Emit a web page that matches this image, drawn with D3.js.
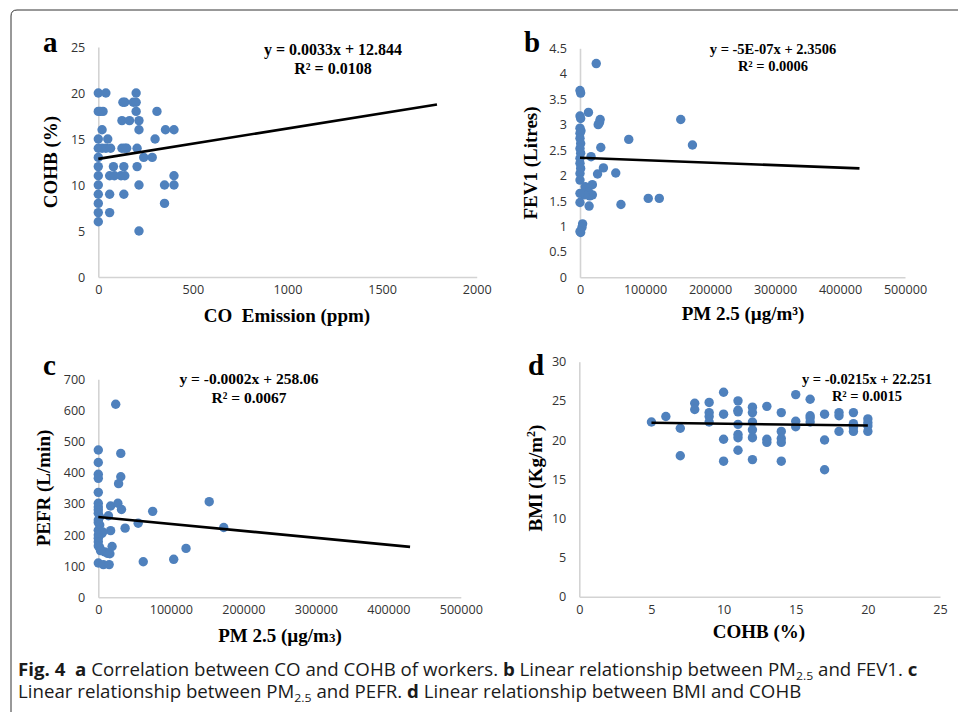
<!DOCTYPE html>
<html>
<head>
<meta charset="utf-8">
<script src="https://cdn.jsdelivr.net/npm/d3@7"></script>
<style>
body { margin: 0; background: #fff; }
</style>
</head>
<body>
<script>
// ---- data ----
// a: CO emission (ppm) vs COHB (%)
var coVsCohb = [
    [0,20],[40,20],[200,20],
    [130,19],[140,19],[185,19],[200,19],
    [0,18],[10,18],[25,18],[200,18],[310,18],
    [125,17],[165,17],[215,17],
    [20,16],[215,16],[355,16],[400,16],
    [0,15],[50,15],[300,15],
    [0,14],[20,14],[40,14],[65,14],[125,14],[140,14],[150,14],[205,14],
    [0,13],[240,13],[285,13],
    [0,12],[80,12],[135,12],[205,12],
    [0,11],[60,11],[85,11],[120,11],[140,11],[400,11],
    [0,10],[215,10],[350,10],[400,10],
    [0,9],[60,9],[135,9],
    [0,8],[350,8],
    [0,7],[60,7],
    [0,6],
    [215,5]
];
// b: PM2.5 vs FEV1 (litres)
var pmVsFev1 = [
    [25000,4.2],[0,3.67],[1000,3.62],[0,3.17],[1000,3.12],[13000,3.24],
    [31000,3.1],[30000,3.04],[28000,3.0],[155000,3.1],
    [0,2.93],[1500,2.88],[0,2.83],[0,2.73],[1000,2.63],[0,2.53],[1000,2.44],
    [0,2.34],[0,2.24],[1000,2.14],[0,2.04],[0,1.91],
    [75000,2.71],[173000,2.6],[32000,2.55],[17000,2.37],[36000,2.15],
    [27000,2.03],[55000,2.05],[19000,1.82],[8000,1.78],[13000,1.68],
    [19000,1.62],[15000,1.6],[7000,1.62],[0,1.65],[0,1.47],[14000,1.4],
    [63000,1.43],[105000,1.55],[122000,1.55],
    [4000,1.05],[3000,0.98],[1000,0.88],[0,0.9]
];
// c: PM2.5 vs PEFR (L/min)
var pmVsPefr = [
    [24000,620],[0,473],[0,433],[0,395],[0,382],[31000,462],[31000,387],
    [28000,365],[0,337],[17000,293],[27000,302],[32000,282],[75000,276],
    [153000,307],[173000,224],[37000,222],[55000,238],[14000,262],
    [17000,214],[19000,163],[16000,140],[9000,146],[13000,141],
    [0,110],[7000,105],[15000,105],[62000,114],[104000,122],[121000,157],
    [0,302],[0,290],[0,280],[0,270],[2000,258],[0,248],[0,240],[2000,232],
    [0,215],[5000,205],[6000,210],[0,200],[0,190],[0,178],[0,165],
    [2000,160],[3000,150]
];
// d: COHB (%) vs BMI
var cohbVsBmi = [
    [5,22.3],[6,23.0],[7,21.5],[7,18.0],[8,24.7],[8,23.9],
    [9,24.8],[9,23.5],[9,23.0],[9,22.3],
    [10,26.1],[10,23.3],[10,20.1],[10,17.3],
    [11,25.0],[11,23.8],[11,23.6],[11,22.0],[11,20.7],[11,20.3],[11,18.7],
    [12,24.2],[12,23.5],[12,22.3],[12,21.3],[12,20.3],[12,17.5],
    [13,24.3],[13,20.1],[13,19.7],
    [14,23.5],[14,21.1],[14,20.2],[14,19.7],[14,17.3],
    [15,25.8],[15,22.4],[15,21.7],
    [16,25.2],[16,23.1],[16,22.8],[16,22.3],
    [17,23.3],[17,20.0],[17,16.2],
    [18,23.5],[18,23.1],[18,21.1],
    [19,23.5],[19,22.1],[19,21.6],[19,21.1],
    [20,22.7],[20,22.2],[20,21.8],[20,21.1]
];

// trend line end points
var trendA = [[0,12.84],[1790,18.75]];
var trendB = [[0,2.35],[430000,2.14]];
var trendC = [[0,258],[430000,162]];
var trendD = [[5,22.2],[20,21.85]];

// axis ticks
var ticksCO = [0,500,1000,1500,2000];
var ticksCOHB = [0,5,10,15,20,25];
var ticksPM = [0,100000,200000,300000,400000,500000];
var ticksFEV1 = [0,0.5,1,1.5,2,2.5,3,3.5,4,4.5];
var ticksPEFR = [0,100,200,300,400,500,600,700];
var ticksCOHBd = [0,5,10,15,20,25];
var ticksBMI = [0,5,10,15,20,25,30];

// regression text
var eqA = ["y = 0.0033x + 12.844", "R² = 0.0108"];
var eqB = ["y = -5E-07x + 2.3506", "R² = 0.0006"];
var eqC = ["y = -0.0002x + 258.06", "R² = 0.0067"];
var eqD = ["y = -0.0215x + 22.251", "R² = 0.0015"];

var W = 958, H = 712;
var dotColor = "#4f81bd";
var serif = "'Liberation Serif', 'Times New Roman', serif";

var svg = d3.select("body").append("svg")
    .attr("width", W)
    .attr("height", H);

// figure frame (left + top, rounded corner)
svg.append("path")
    .attr("d", "M11," + (H + 2) + " L11,16 Q11,10 17,10 L" + (W + 2) + ",10")
    .attr("fill", "none")
    .attr("stroke", "#333")
    .attr("stroke-width", 1);

function drawPanel(p) {
    var x = d3.scaleLinear().domain([p.xTicks[0], p.xTicks[p.xTicks.length - 1]]).range([p.left, p.right]);
    var y = d3.scaleLinear().domain([p.yTicks[0], p.yTicks[p.yTicks.length - 1]]).range([p.bottom, p.top]);
    var g = svg.append("g");

    var xa = g.append("g")
        .attr("transform", "translate(0," + p.bottom + ")")
        .call(d3.axisBottom(x).tickValues(p.xTicks).tickSize(0).tickSizeOuter(0).tickPadding(8).tickFormat(d3.format("d")));
    var ya = g.append("g")
        .attr("transform", "translate(" + p.left + ",0)")
        .call(d3.axisLeft(y).tickValues(p.yTicks).tickSize(0).tickSizeOuter(0).tickPadding(13).tickFormat(function(d){ return String(d); }));
    [xa, ya].forEach(function(a) {
        a.select(".domain").attr("stroke", "#d3d3d3").attr("stroke-width", 1.6);
        a.selectAll("text")
            .attr("font-family", "'Open Sans', sans-serif")
            .attr("font-size", "12.6px")
            .attr("fill", "#333");
        a.attr("font-family", null).attr("font-size", null);
    });

    // points
    g.selectAll("circle.pt")
        .data(p.points)
        .enter()
        .append("circle")
            .attr("class", "pt")
            .attr("cx", function(d){ return x(d[0]); })
            .attr("cy", function(d){ return y(d[1]); })
            .attr("r", 4.7)
            .attr("fill", dotColor);

    // trend line
    g.append("line")
        .attr("x1", x(p.trend[0][0])).attr("y1", y(p.trend[0][1]))
        .attr("x2", x(p.trend[1][0])).attr("y2", y(p.trend[1][1]))
        .attr("stroke", "#000")
        .attr("stroke-width", 2.6);

    // equation
    p.eq.forEach(function(t, i) {
        g.append("text")
            .attr("x", p.eqX)
            .attr("y", p.eqY[i])
            .attr("text-anchor", "middle")
            .attr("font-family", serif)
            .attr("font-weight", "bold")
            .attr("font-size", p.eqSize + "px")
            .text(t);
    });

    // panel letter
    g.append("text")
        .attr("x", p.letterPos[0])
        .attr("y", p.letterPos[1])
        .attr("font-family", serif)
        .attr("font-weight", "bold")
        .attr("font-size", "29px")
        .text(p.letter);

    // axis titles
    var xt = g.append("text")
        .attr("x", p.xTitlePos[0])
        .attr("y", p.xTitlePos[1])
        .attr("text-anchor", "middle")
        .attr("font-family", serif)
        .attr("font-weight", "bold")
        .attr("font-size", "19px")
        .attr("xml:space", "preserve");
    p.xTitle(xt);

    var yt = g.append("text")
        .attr("transform", "translate(" + p.yTitlePos[0] + "," + p.yTitlePos[1] + ") rotate(-90)")
        .attr("text-anchor", "middle")
        .attr("font-family", serif)
        .attr("font-weight", "bold")
        .attr("font-size", "19px");
    p.yTitle(yt);
}

drawPanel({
    letter: "a", letterPos: [43, 52],
    left: 98.3, right: 476.7, top: 47, bottom: 277,
    xTicks: ticksCO, yTicks: ticksCOHB,
    points: coVsCohb, trend: trendA,
    eq: eqA, eqX: 333, eqY: [55, 74], eqSize: 16,
    xTitlePos: [287, 322], yTitlePos: [57, 162],
    xTitle: function(t){ t.text("CO  Emission (ppm)"); },
    yTitle: function(t){ t.text("COHB (%)"); }
});
drawPanel({
    letter: "b", letterPos: [524, 52],
    left: 580, right: 905, top: 48.3, bottom: 277.3,
    xTicks: ticksPM, yTicks: ticksFEV1,
    points: pmVsFev1, trend: trendB,
    eq: eqB, eqX: 773, eqY: [54, 71], eqSize: 14.5,
    xTitlePos: [743, 320], yTitlePos: [537, 163],
    xTitle: function(t){ t.text("PM 2.5 (µg/m³)"); },
    yTitle: function(t){ t.text("FEV1 (Litres)"); }
});
drawPanel({
    letter: "c", letterPos: [43, 375],
    left: 98.3, right: 460.8, top: 379.3, bottom: 597.3,
    xTicks: ticksPM, yTicks: ticksPEFR,
    points: pmVsPefr, trend: trendC,
    eq: eqC, eqX: 249, eqY: [384, 403], eqSize: 15.5,
    xTitlePos: [280, 642], yTitlePos: [50, 488],
    xTitle: function(t){
        t.append("tspan").text("PM 2.5 (µg/m");
        t.append("tspan").attr("font-size", "13px").text("3");
        t.append("tspan").text(")");
    },
    yTitle: function(t){ t.text("PEFR (L/min)"); }
});
drawPanel({
    letter: "d", letterPos: [528, 375],
    left: 579.3, right: 940, top: 361.7, bottom: 596.7,
    xTicks: ticksCOHBd, yTicks: ticksBMI,
    points: cohbVsBmi, trend: trendD,
    eq: eqD, eqX: 867, eqY: [384, 401], eqSize: 14.5,
    xTitlePos: [759, 638], yTitlePos: [542, 478],
    xTitle: function(t){ t.text("COHB (%)"); },
    yTitle: function(t){
        t.append("tspan").text("BMI (Kg/m");
        t.append("tspan").attr("font-size", "12px").attr("dy", -7).text("2");
        t.append("tspan").attr("dy", 7).text(")");
    }
});

// ---- caption ----
var cap = svg.append("g");
var capLines = [
    [["Fig. 4  ", true], ["a", true], [" Correlation between CO and COHB of workers. ", false], ["b", true],
     [" Linear relationship between PM", false], ["2.5", "sub"], [" and FEV1. ", false], ["c", true]],
    [["Linear relationship between PM", false], ["2.5", "sub"], [" and PEFR. ", false], ["d", true],
     [" Linear relationship between BMI and COHB", false]]
];
var capY = [676, 698];
capLines.forEach(function(line, i) {
    var t = cap.append("text")
        .attr("x", 0)
        .attr("y", capY[i])
        .attr("font-family", "'Open Sans', sans-serif")
        .attr("font-size", "17.5px")
        .attr("fill", "#1a1a1a")
        .attr("xml:space", "preserve");
    var shifted = false;
    line.forEach(function(seg) {
        var s = t.append("tspan").text(seg[0]);
        if (seg[1] === true) s.attr("font-weight", "bold");
        if (seg[1] === "sub") { s.attr("font-size", "11.5px").attr("dy", 4); shifted = true; }
        else if (shifted) { s.attr("dy", -4); shifted = false; }
    });
});
// squeeze to the condensed width of the original caption font
var w1 = cap.select("text").node().getComputedTextLength();
var sx = (918 - 18) / w1;
cap.attr("transform", "translate(18,0) scale(" + sx + ",1)");
</script>
</body>
</html>
